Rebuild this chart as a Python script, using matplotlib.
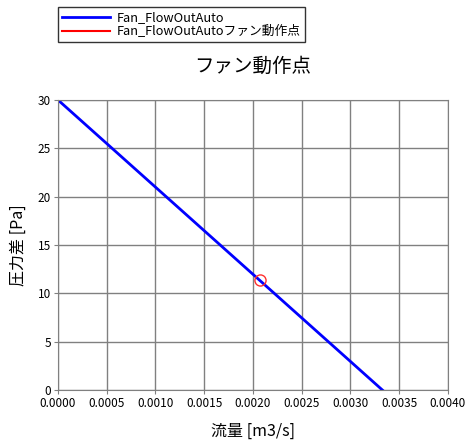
import matplotlib.pyplot as plt
import numpy as np

plt.rcParams['font.family'] = ['Noto Sans CJK JP', 'DejaVu Sans']

# ファン特性線
flow = [0.0, 0.00333]
dp = [30.0, 0.0]
# 動作点
op_flow = [0.00207]
op_dp = [11.4]

x_ticks = np.arange(0, 0.00401, 0.0005)
y_ticks = np.arange(0, 31, 5)

fig = plt.figure(figsize=(4.71, 4.48), dpi=100)
ax = fig.add_axes([0.123, 0.129, 0.828, 0.648])

l1, = ax.plot(flow, dp, color='#0000ff', lw=2, label='Fan_FlowOutAuto')
ax.plot(op_flow, op_dp, 'o', ms=8, mfc='none', mec='#ff3030', mew=1)
l2, = ax.plot([], [], color='#ff0000', lw=1.5, label='Fan_FlowOutAutoファン動作点')

ax.set_xlim(0, 0.004)
ax.set_ylim(0, 30)
ax.set_xticks(x_ticks)
ax.set_yticks(y_ticks)
ax.set_xticklabels([f'{v:.4f}' for v in x_ticks], fontsize=8.5)
ax.set_yticklabels([f'{v:g}' for v in y_ticks], fontsize=8.5)
ax.tick_params(length=3, color='#808080', pad=2)
ax.grid(True, color='#808080', lw=1)
ax.set_axisbelow(True)
for s in ax.spines.values():
    s.set_color('#808080')

ax.set_xlabel('流量 [m3/s]', fontsize=11.5, labelpad=9)
ax.set_ylabel('圧力差 [Pa]', fontsize=11.5, labelpad=8)
ax.set_title('ファン動作点', fontsize=14, pad=20)

fig.legend(handles=[l1, l2], loc='upper left', bbox_to_anchor=(0.123, 0.984),
           fontsize=9.2, frameon=True, fancybox=False, edgecolor='black',
           borderpad=0.3, labelspacing=0.1, handlelength=3.8,
           handletextpad=0.5, borderaxespad=0)

fig.savefig('out.png', dpi=100)
